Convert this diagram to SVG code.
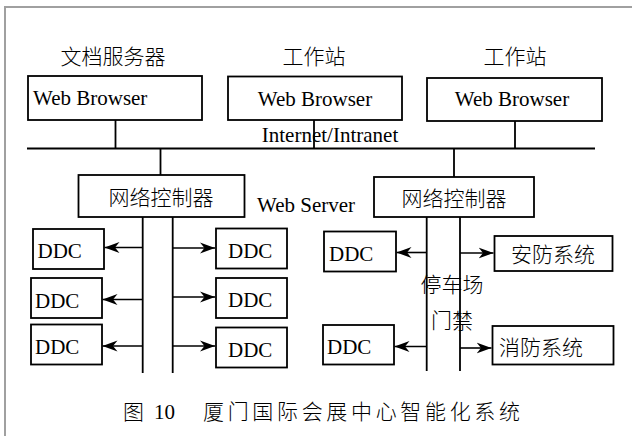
<svg xmlns="http://www.w3.org/2000/svg" width="632" height="436" viewBox="0 0 632 436">
<style>
.box{fill:#fff;stroke:#000;stroke-width:1.8}
.ln{stroke:#000;stroke-width:1.8;fill:none}
.ar{stroke:#000;stroke-width:1.6;fill:none;marker-end:url(#ah)}
.t{font-family:"Liberation Serif","Noto Sans CJK SC",serif;font-size:21px;fill:#000}
.cj{font-family:"Noto Sans CJK SC",sans-serif;font-weight:300;font-size:21px;fill:#000}
.c{text-anchor:middle}
.frame{stroke:#a0a0a0;stroke-width:2;fill:none}
</style>
<defs>
<marker id="ah" markerUnits="userSpaceOnUse" markerWidth="16" markerHeight="12" refX="15" refY="6" orient="auto">
<path d="M0,0.5 L15,6 L0,11.5 L4.5,6 z" fill="#000"/>
</marker>
</defs>
<rect width="632" height="436" fill="#fff"/>
<path class="frame" d="M5,436 V7 H632"/>

<g id="lbl-docserver"><text class="cj c" x="113" y="64">文档服务器</text></g>
<g id="lbl-ws1"><text class="cj c" x="314" y="64">工作站</text></g>
<g id="lbl-ws2"><text class="cj c" x="515" y="64">工作站</text></g>

<g id="browser1"><rect class="box" x="28" y="76" width="174" height="44"/><text class="t" x="33" y="105">Web Browser</text></g>
<g id="browser2"><rect class="box" x="228" y="76.5" width="174" height="43.5"/><text class="t c" x="315" y="105.5">Web Browser</text></g>
<g id="browser3"><rect class="box" x="427" y="78" width="175" height="43"/><text class="t c" x="512" y="106">Web Browser</text></g>

<g id="lbl-internet"><text class="t c" x="330" y="142">Internet/Intranet</text></g>
<g id="lbl-webserver"><text class="t" x="257" y="212">Web Server</text></g>

<g id="ctrl1"><rect class="box" x="78.5" y="175" width="166" height="42"/><text class="cj c" x="161" y="205">网络控制器</text></g>
<g id="ctrl2"><rect class="box" x="374" y="177" width="160" height="40"/><text class="cj c" x="454" y="206">网络控制器</text></g>

<g id="ddc-l1"><rect class="box" x="33" y="229" width="71" height="40"/><text class="t" x="37.5" y="258">DDC</text></g>
<g id="ddc-l2"><rect class="box" x="31" y="278" width="71" height="40"/><text class="t" x="35" y="307.5">DDC</text></g>
<g id="ddc-l3"><rect class="box" x="31" y="324.5" width="71" height="40"/><text class="t" x="35" y="353.5">DDC</text></g>
<g id="ddc-r1"><rect class="box" x="216" y="228.5" width="71" height="40"/><text class="t" x="228" y="257.5">DDC</text></g>
<g id="ddc-r2"><rect class="box" x="216" y="278" width="71" height="40"/><text class="t" x="228" y="306.5">DDC</text></g>
<g id="ddc-r3"><rect class="box" x="216" y="327.5" width="71" height="40"/><text class="t" x="228" y="356.5">DDC</text></g>

<g id="ddc-m1"><rect class="box" x="324" y="231.5" width="72" height="40"/><text class="t" x="329" y="261">DDC</text></g>
<g id="ddc-m2"><rect class="box" x="323" y="325" width="71" height="39.5"/><text class="t" x="327" y="354">DDC</text></g>
<g id="security"><rect class="box" x="494.5" y="236" width="118" height="35"/><text class="cj c" x="553" y="262">安防系统</text></g>
<g id="fire"><rect class="box" x="492.5" y="326" width="121" height="38.5"/><text class="cj" x="499" y="355">消防系统</text></g>

<g id="connectors">
<path class="ln" d="M115.5,120 V148 M314,120 V148 M515,121 V148"/>
<path class="ln" d="M27,148.5 H595"/>
<path class="ln" d="M160.5,148 V175 M454,148 V177"/>
<path class="ln" d="M142.7,217 V373 M172.7,217 V373"/>
<path class="ln" d="M426.7,217 V371 M460,217 V371"/>
<path class="ar" d="M143,247.5 H104.5"/>
<path class="ar" d="M143,299.5 H102.5"/>
<path class="ar" d="M143,346 H102.5"/>
<path class="ar" d="M173,248 H215"/>
<path class="ar" d="M173,297 H215"/>
<path class="ar" d="M173,346 H215"/>
<path class="ar" d="M427,252.5 H396.5"/>
<path class="ar" d="M427,346.5 H394.5"/>
<path class="ar" d="M460,253 H493.5"/>
<path class="ar" d="M460,348 H491.5"/>
</g>

<g id="lbl-parking"><text class="cj c" x="452" y="292">停车场</text></g>
<g id="lbl-access"><text class="cj c" x="452" y="328">门禁</text></g>

<g id="caption">
<text class="cj" x="123" y="419">图</text>
<text class="t" x="154" y="419">10</text>
<text class="cj" x="203" y="419" textLength="317" lengthAdjust="spacing">厦门国际会展中心智能化系统</text>
</g>
</svg>
